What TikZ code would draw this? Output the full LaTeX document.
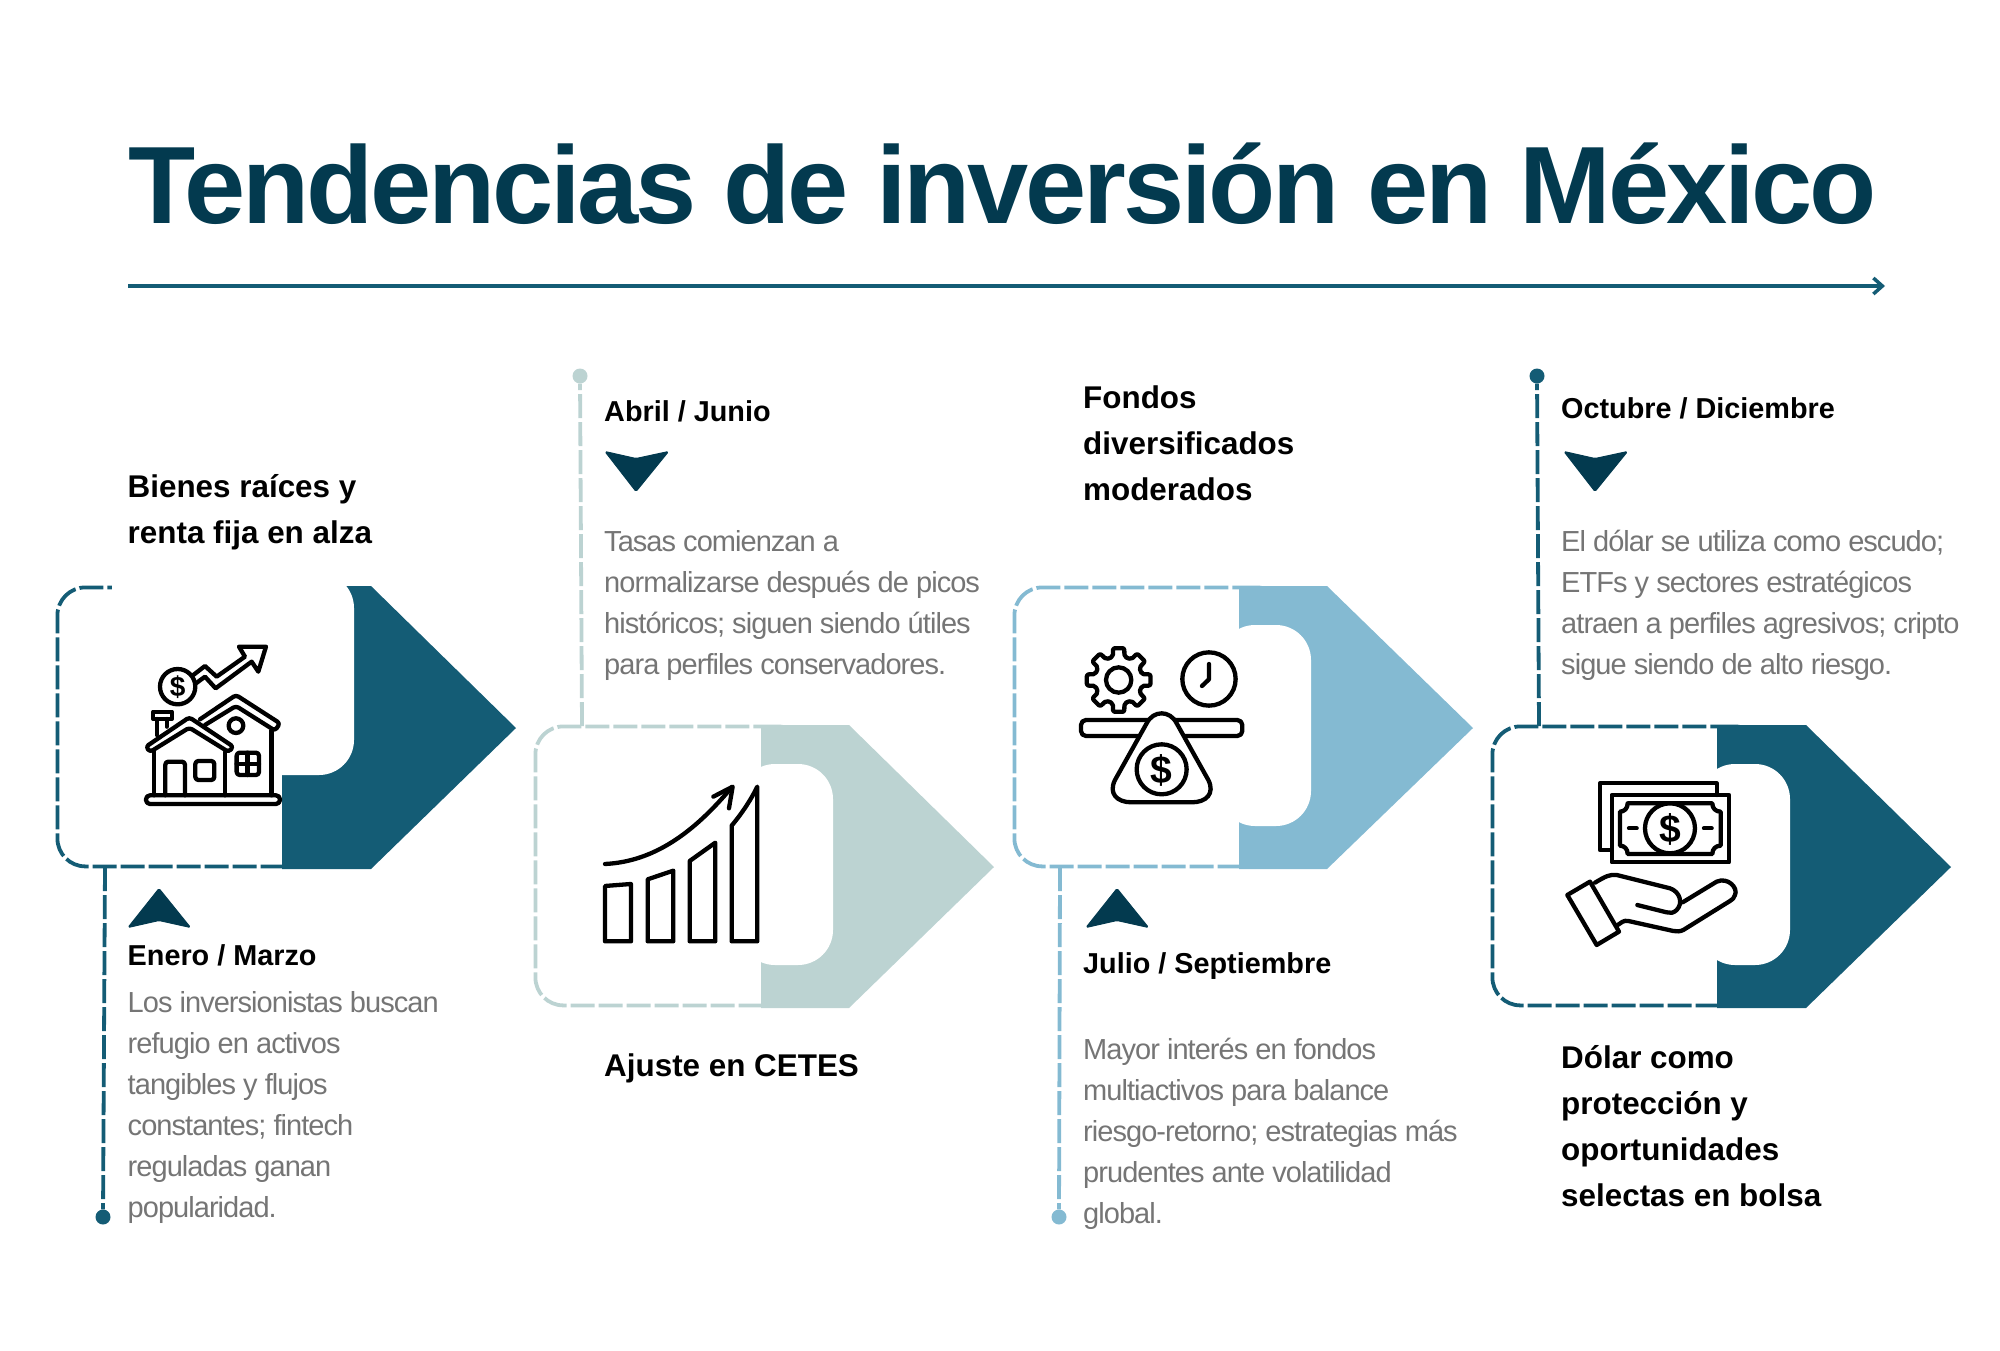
\documentclass[tikz,border=0pt]{standalone}
\usepackage{fontspec}
\setmainfont{Liberation Sans}
\newfontfamily\titlefont[LetterSpace=-2.9]{Liberation Sans}
\newfontfamily\bodyfont[LetterSpace=-3.3]{Liberation Sans}
\usetikzlibrary{arrows.meta, positioning, calc}
\definecolor{navy}{HTML}{033A4F}
\definecolor{teal}{HTML}{145C75}
\definecolor{mist}{HTML}{BCD3D2}
\definecolor{sky}{HTML}{84BAD2}
\definecolor{bodygray}{HTML}{757575}

\begin{document}
\begin{tikzpicture}[
  x=1pt, y=-1pt,
  titletext/.style = {anchor=base west, inner sep=0pt, text=navy, font=\titlefont\fontsize{110}{110}\selectfont\bfseries},
  heading/.style = {anchor=north west, inner sep=0pt, align=left, font=\fontsize{31.4}{46}\selectfont\bfseries},
  monthtext/.style = {anchor=base west, inner sep=0pt, font=\fontsize{28.8}{34}\selectfont\bfseries},
  bodytext/.style = {anchor=north west, inner sep=0pt, align=left, text=bodygray, font=\bodyfont\fontsize{29}{41}\selectfont},
  stepbox/.style = {draw=#1, line width=3.8pt, dash pattern=on 24pt off 4pt, rounded corners=28pt, minimum width=270pt, minimum height=279pt, inner sep=0pt, anchor=north west},
  pointer/.style = {fill=#1},
  panel/.style = {fill=white, rounded corners=35pt},
  pin/.style = {circle, fill=#1, inner sep=0pt, minimum size=15pt},
  link/.style = {draw=#1, line width=3.8pt, dash pattern=on 24pt off 4pt},
  tick/.style = {fill=navy, draw=navy, line width=1pt, line join=round, rounded corners=1.5pt},
  icon/.style = {draw=black, line width=4.3pt, line join=round, line cap=round},
  coinsign/.style = {inner sep=0pt, text=black}
]

  \useasboundingbox (0,0) rectangle (2000,1350);

  % Title
  \node[titletext] (title) at (128,223) {Tendencias de inversión en México};
  \coordinate (rule_start) at (128,286);
  \coordinate (rule_end) at (1885,286);
  \draw[teal, line width=3.5pt, -{Straight Barb[length=9pt,width=16pt]}] (rule_start) -- (rule_end);

  % Step 1
  \node[stepbox=teal] (box1) at (55.5,585.5) {};
  \fill[pointer=teal] (282,586) -- (371,586) -- (516,728) -- (371,869) -- (282,869) -- cycle;
  \path[panel] (112,573) rectangle (354,775);
  \fill[white] (112,573) rectangle (282,775);
  \node[pin=teal] (dot1) at (103,1217) {};
  \coordinate (link1) at (105,867);
  \draw[link=teal] (link1) -- (dot1);

  \node[heading] (head1) at (127.5,474) {Bienes raíces y\\renta fija en alza};
  \fill[tick] (159,888.5) -- (190.5,927.5) -- (159,920.5) -- (128,927.5) -- cycle;
  \node[monthtext] (month1) at (127.5,965) {Enero / Marzo};
  \node[bodytext] (text1) at (127.5,991) {Los inversionistas buscan\\refugio en activos\\tangibles y flujos\\constantes; fintech\\reguladas ganan\\popularidad.};

  % Step 2
  \node[stepbox=mist] (box2) at (533.5,724.5) {};
  \fill[pointer=mist] (761,725) -- (849,725) -- (994,867) -- (849,1008) -- (761,1008) -- cycle;
  \path[panel] (740,764) rectangle (833,965);
  \fill[white] (740,764) rectangle (761,965);
  \node[pin=mist] (dot2) at (580,376) {};
  \coordinate (link2) at (582,726);
  \draw[link=mist] (link2) -- (dot2);

  \node[monthtext] (month2) at (604,421) {Abril / Junio};
  \fill[tick] (605,451.5) -- (636,458.5) -- (668.5,451.5) -- (636,491.5) -- cycle;
  \node[bodytext] (text2) at (604,530) {Tasas comienzan a\\normalizarse después de picos\\históricos; siguen siendo útiles\\para perfiles conservadores.};
  \node[heading] (head2) at (604,1054) {Ajuste en CETES};

  % Step 3
  \node[stepbox=sky] (box3) at (1012.5,585.5) {};
  \fill[pointer=sky] (1239,586) -- (1327,586) -- (1473,728) -- (1327,869) -- (1239,869) -- cycle;
  \path[panel] (1220,625) rectangle (1311,826);
  \fill[white] (1220,625) rectangle (1239,826);
  \node[pin=sky] (dot3) at (1059,1217) {};
  \coordinate (link3) at (1060,867);
  \draw[link=sky] (link3) -- (dot3);

  \node[heading] (head3) at (1083,386) {Fondos\\diversificados\\moderados};
  \fill[tick] (1117,888.5) -- (1148.5,927.5) -- (1117,920.5) -- (1086,927.5) -- cycle;
  \node[monthtext] (month3) at (1083,973) {Julio / Septiembre};
  \node[bodytext] (text3) at (1083,1038) {Mayor interés en fondos\\multiactivos para balance\\riesgo-retorno; estrategias más\\prudentes ante volatilidad\\global.};

  % Step 4
  \node[stepbox=teal] (box4) at (1490.5,724.5) {};
  \fill[pointer=teal] (1717,725) -- (1806,725) -- (1951,867) -- (1806,1008) -- (1717,1008) -- cycle;
  \path[panel] (1700,764) rectangle (1790,965);
  \fill[white] (1700,764) rectangle (1717,965);
  \node[pin=teal] (dot4) at (1537,376) {};
  \coordinate (link4) at (1539,726);
  \draw[link=teal] (link4) -- (dot4);

  \node[monthtext] (month4) at (1561,418) {Octubre / Diciembre};
  \fill[tick] (1564,451.5) -- (1595,458.5) -- (1627.5,451.5) -- (1595,491.5) -- cycle;
  \node[bodytext] (text4) at (1561,530) {El dólar se utiliza como escudo;\\ETFs y sectores estratégicos\\atraen a perfiles agresivos; cripto\\sigue siendo de alto riesgo.};
  \node[heading] (head4) at (1561,1045) {Dólar como\\protección y\\oportunidades\\selectas en bolsa};

  % House icon
  \begin{scope}[shift={(40,560)}, x=0.3333pt, y=-0.3333pt]
    \draw[icon, rounded corners=4pt] (318,706) rectangle (720,732);
    \draw[icon] (343,576) -- (343,706) (555,576) -- (555,706);
    \draw[icon, rounded corners=3pt] (376,706) -- (376,605) -- (435,605) -- (435,706);
    \draw[icon, rounded corners=3pt] (466,603) rectangle (523,660);
    \draw[icon, rounded corners=3pt] (330,576) -- (448,503) -- (566,576) -- (580,560) -- (448,472) -- (318,560) -- cycle;
    \draw[icon, rounded corners=3pt] (480,478) -- (588,405) -- (720,490) -- (705,512) -- (588,438) -- (495,495);
    \draw[icon] (695,512) -- (695,706);
    \draw[icon] (588,497) circle[radius=22];
    \draw[icon, rounded corners=3pt] (590,578) rectangle (657,645);
    \draw[icon] (623,578) -- (623,645) (590,611) -- (657,611);
    \draw[icon] (340,455) rectangle (395,477);
    \draw[icon] (350,477) -- (350,525) (380,477) -- (380,500);
    \draw[icon] (413,380) circle[radius=53];
    \node[coinsign, font=\fontsize{28}{28}\selectfont\bfseries] (sign1) at (413,382) {\$};
    \draw[icon] (460,345) -- (495,318) -- (530,350) -- (615,290) -- (597,260) -- (678,260) -- (655,335) -- (635,305) -- (527,385) -- (495,350) -- (468,370);
  \end{scope}

  % Bars icon
  \begin{scope}[shift={(520,700)}, x=0.3333pt, y=-0.3333pt]
    \draw[icon] (255,558) -- (333,552) -- (333,724) -- (255,724) -- cycle;
    \draw[icon] (383,538) -- (460,512) -- (460,724) -- (383,724) -- cycle;
    \draw[icon] (509,483) -- (586,428) -- (586,724) -- (509,724) -- cycle;
    \draw[icon] (635,377) .. controls (670,335) and (695,295) .. (712,260) -- (712,724) -- (635,724) -- cycle;
    \draw[icon] (255,492) .. controls (400,485) and (520,400) .. (635,262);
    \draw[icon] (580,290) -- (638,260) -- (627,325);
  \end{scope}

  % Balance icon
  \begin{scope}[shift={(1000,560)}, x=0.3333pt, y=-0.3333pt]
    \draw[icon, rounded corners=2pt, shift={(356,360)}] (-14:72)
      \foreach \a in {0,45,...,315} { -- (\a-14:72) -- (\a-10:97) -- (\a+10:97) -- (\a+14:72) } -- cycle;
    \draw[icon] (356,360) circle[radius=38];
    \draw[icon] (627,357) circle[radius=80];
    \draw[icon] (627,312) -- (627,358) -- (606,378);
    \draw[icon, rounded corners=5pt] (243,480) rectangle (727,528);
    \draw[icon, fill=white] (530,490) .. controls (510,450) and (460,450) .. (440,490) -- (345,660) .. controls (325,700) and (350,727) .. (395,727) -- (575,727) .. controls (620,727) and (645,700) .. (625,660) -- cycle;
    \draw[icon] (485,628) circle[radius=75];
    \node[coinsign, font=\fontsize{39}{39}\selectfont\bfseries] (sign3) at (485,630) {\$};
  \end{scope}

  % Money icon
  \begin{scope}[shift={(1480,700)}, x=0.3333pt, y=-0.3333pt]
    \draw[icon] (395,450) -- (360,450) -- (360,250) -- (710,250) -- (710,285);
    \draw[icon] (395,285) rectangle (747,487);
    \draw[icon] (443,310) -- (697,310) .. controls (697,325) and (707,335) .. (722,335) -- (722,437) .. controls (707,437) and (697,447) .. (697,462) -- (443,462) .. controls (443,447) and (433,437) .. (420,437) -- (420,335) .. controls (433,335) and (443,325) .. (443,310);
    \draw[icon, fill=white] (570,385) circle[radius=75];
    \node[coinsign, font=\fontsize{39}{39}\selectfont\bfseries] (sign4) at (570,387) {\$};
    \draw[icon] (447,385) -- (470,385) (672,385) -- (695,385);
    \draw[icon] (262,585) -- (330,545) -- (417,695) -- (350,735) -- cycle;
    \draw[icon] (345,548) .. controls (375,530) and (390,522) .. (410,525) -- (570,565) .. controls (600,575) and (610,610) .. (590,630) .. controls (580,640) and (570,640) .. (560,637) -- (472,615);
    \draw[icon] (608,607) -- (710,545) .. controls (745,530) and (775,565) .. (765,585) .. controls (762,595) and (758,598) .. (750,603) -- (610,690) .. controls (600,695) and (590,695) .. (580,693) -- (445,663) .. controls (430,660) and (425,668) .. (413,675);
  \end{scope}

\end{tikzpicture}
\end{document}
